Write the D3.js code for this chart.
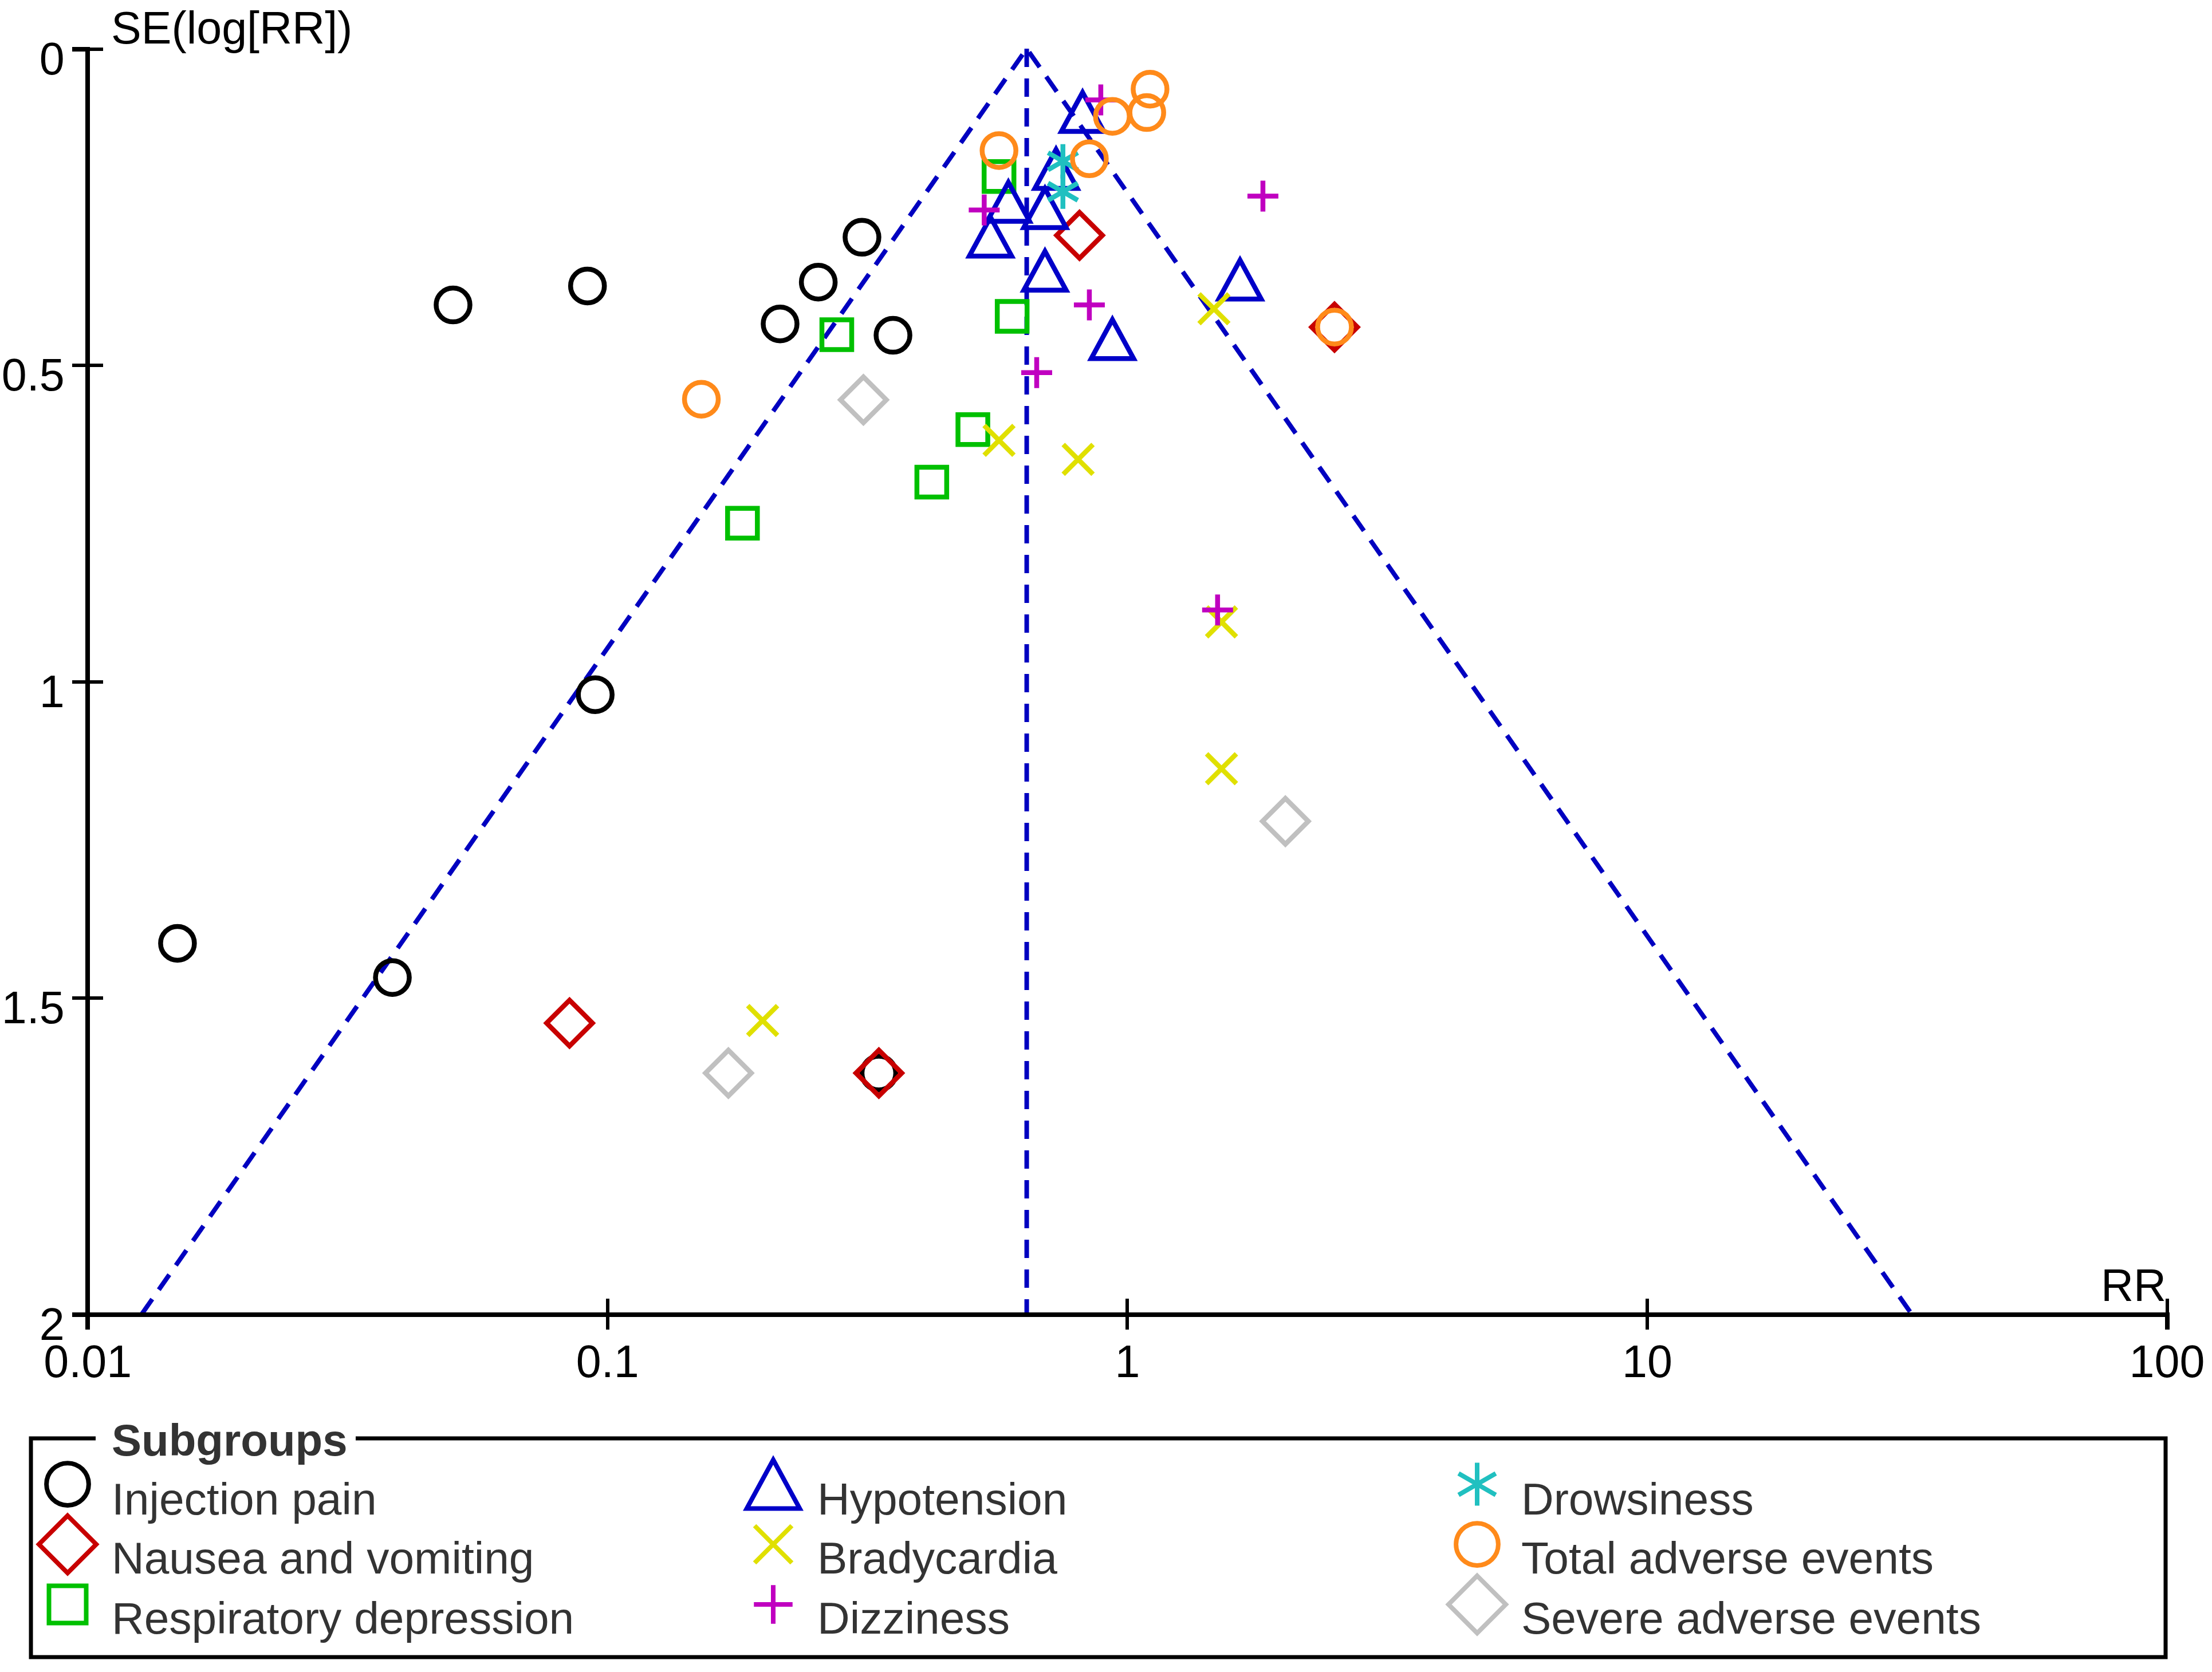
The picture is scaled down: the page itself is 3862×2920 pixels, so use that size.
<!DOCTYPE html>
<html><head><meta charset="utf-8">
<script src="https://cdn.jsdelivr.net/npm/d3@7"></script>
<style>body{margin:0;background:#fff}svg{display:block}</style>
</head><body>
<svg id="chart" width="3862" height="2920"></svg>
<script>
// ---------- data: [RR, SE(log RR)] ----------
const subgroups = ["Injection pain","Nausea and vomiting","Respiratory depression","Hypotension","Bradycardia","Dizziness","Drowsiness","Total adverse events","Severe adverse events"];
const injectionPain = [[0.0505,0.405],[0.0916,0.375],[0.309,0.298],[0.2546,0.369],[0.215,0.435],[0.3545,0.453],[0.0948,1.021],[0.0149,1.414],[0.0386,1.468],[0.333,1.619]];
const nauseaVomiting = [[0.81,0.295],[2.506,0.440],[0.0846,1.540],[0.333,1.619]];
const respiratoryDepression = [[0.567,0.202],[0.2764,0.452],[0.601,0.423],[0.505,0.602],[0.421,0.685],[0.182,0.750]];
const hypotension = [[0.821,0.100],[0.730,0.190],[0.591,0.242],[0.695,0.252],[0.546,0.297],[0.695,0.351],[1.649,0.365],[0.937,0.459]];
const bradycardia = [[1.469,0.411],[0.567,0.619],[0.805,0.649],[1.519,0.906],[1.519,1.138],[0.199,1.536]];
const dizziness = [[0.890,0.081],[1.825,0.233],[0.531,0.255],[0.846,0.405],[0.670,0.512],[1.493,0.887]];
const drowsiness = [[0.7525,0.178],[0.7525,0.226]];
const totalAdverse = [[1.107,0.064],[1.091,0.101],[0.937,0.107],[0.567,0.161],[0.846,0.174],[2.506,0.440],[0.1517,0.554]];
const severeAdverse = [[0.311,0.555],[2.016,1.221],[0.171,1.619]];
const seriesValues = [injectionPain,nauseaVomiting,respiratoryDepression,hypotension,bradycardia,dizziness,drowsiness,totalAdverse,severeAdverse];
const pooledRR = 0.641;
const xTicks = [0.01,0.1,1,10,100];
const xTickLabels = ["0.01","0.1","1","10","100"];
const yTicks = [0,0.5,1,1.5,2];
const yTickLabels = ["0","0.5","1","1.5","2"];

// ---------- styles ----------
const symbols = ["circle","diamond","square","triangle","x","plus","asterisk","circle","diamond"];
const colors = ["#000000","#c80000","#00c000","#0000c8","#e0e000","#c000c0","#20c0c0","#ff8a1a","#c0c0c0"];
const FONT = "'Liberation Sans', Arial, sans-serif";

const svg = d3.select("#chart");
svg.append("rect").attr("width",3862).attr("height",2920).attr("fill","#fff");

const x = d3.scaleLog().domain([0.01,100]).range([152.7,3783]);
const y = d3.scaleLinear().domain([0,2]).range([85,2295]);

function shapePath(type, k){
  const p = d3.path();
  if(type==="circle"){ p.moveTo(29.5*k,0); p.arc(0,0,29.5*k,0,Math.PI*2); p.closePath(); }
  else if(type==="diamond"){ const r=40*k; p.moveTo(0,-r); p.lineTo(r,0); p.lineTo(0,r); p.lineTo(-r,0); p.closePath(); }
  else if(type==="square"){ const r=26*k; p.rect(-r,-r,2*r,2*r); }
  else if(type==="triangle"){ const w=37*k,h=34*k; p.moveTo(0,-h); p.lineTo(w,h); p.lineTo(-w,h); p.closePath(); }
  else if(type==="x"){ const r=26*k; p.moveTo(-r,-r); p.lineTo(r,r); p.moveTo(-r,r); p.lineTo(r,-r); }
  else if(type==="plus"){ const r=27*k; p.moveTo(-r,0); p.lineTo(r,0); p.moveTo(0,-r); p.lineTo(0,r); }
  else if(type==="asterisk"){ const r=30*k; p.moveTo(0,-r); p.lineTo(0,r);
    const dx=r*Math.cos(Math.PI/6), dy=r*Math.sin(Math.PI/6);
    p.moveTo(-dx,-dy); p.lineTo(dx,dy); p.moveTo(-dx,dy); p.lineTo(dx,-dy); }
  return p.toString();
}

// ---------- funnel ----------
const funnel = svg.append("g").attr("fill","none").attr("stroke","#0000c0")
  .attr("stroke-width",8).attr("stroke-dasharray","32 20");
const seMax = 2;
const lo = pooledRR*Math.exp(-1.96*seMax), hi = pooledRR*Math.exp(1.96*seMax);
funnel.append("path").attr("d", d3.line()([[x(lo),y(seMax)],[x(pooledRR),y(0)],[x(hi),y(seMax)]]));
funnel.append("line").attr("x1",x(pooledRR)).attr("x2",x(pooledRR)).attr("y1",y(0)).attr("y2",y(seMax));

// ---------- axes ----------
const xAxis = svg.append("g").attr("transform",`translate(0,${y(2)})`)
  .call(d3.axisBottom(x).tickValues(xTicks).tickFormat((d,i)=>xTickLabels[i]).tickSizeOuter(0).tickSize(27));
xAxis.select(".domain").attr("stroke","#000").attr("stroke-width",8);
xAxis.selectAll(".tick line").attr("y1",-27).attr("y2",27).attr("stroke","#000").attr("stroke-width",6);
xAxis.selectAll(".tick text").attr("y",110).attr("dy",null).attr("fill","#000")
  .style("font-family",FONT).style("font-size","79px");

const yAxis = svg.append("g").attr("transform",`translate(${x(0.01)},0)`)
  .call(d3.axisLeft(y).tickValues(yTicks).tickFormat((d,i)=>yTickLabels[i]).tickSizeOuter(0).tickSize(27));
yAxis.select(".domain").attr("stroke","#000").attr("stroke-width",8);
yAxis.selectAll(".tick line").attr("x1",-27).attr("x2",27).attr("stroke","#000").attr("stroke-width",6);
yAxis.selectAll(".tick text").attr("x",-40).attr("dy",null).attr("y",44).attr("text-anchor","end").attr("fill","#000")
  .style("font-family",FONT).style("font-size","79px");
svg.selectAll(".domain, .tick line").attr("shape-rendering","crispEdges");
svg.selectAll("g").filter(function(){return this.getAttribute("font-size");}).attr("font-size",null).attr("font-family",null);

svg.append("text").attr("x",194).attr("y",76).text("SE(log[RR])")
  .style("font-family",FONT).style("font-size","79px").attr("fill","#000");
svg.append("text").attr("x",3782).attr("y",2272).attr("text-anchor","end").text("RR")
  .style("font-family",FONT).style("font-size","79px").attr("fill","#000");

// ---------- points ----------
seriesValues.forEach((vals,i)=>{
  svg.append("g").selectAll("path").data(vals).join("path")
    .attr("transform",d=>`translate(${x(d[0])},${y(d[1])})`)
    .attr("d",shapePath(symbols[i],1))
    .attr("fill","none").attr("stroke",colors[i]).attr("stroke-width",8.5)
    .attr("stroke-linejoin","miter");
});

// ---------- legend ----------
const leg = svg.append("g");
leg.append("path").attr("d","M167,2512 L54,2512 L54,2894 L3781,2894 L3781,2512 L621,2512")
  .attr("fill","none").attr("stroke","#000").attr("stroke-width",7);
leg.append("text").attr("x",195).attr("y",2542).text("Subgroups")
  .style("font-family",FONT).style("font-size","78px").style("font-weight","bold").attr("fill","#333");
const colX = [118,1350,2579];
const rowTextY = [2645,2748,2853];
const rowMarkY = [2592,2697,2802];
subgroups.forEach((name,i)=>{
  const c = Math.floor(i/3), r = i%3;
  leg.append("path").attr("transform",`translate(${colX[c]},${rowMarkY[r]})`)
    .attr("d",shapePath(symbols[i],1.25)).attr("fill","none").attr("stroke",colors[i]).attr("stroke-width",8);
  leg.append("text").attr("x",colX[c]+77).attr("y",rowTextY[r]).text(name)
    .style("font-family",FONT).style("font-size","78.5px").attr("fill","#333");
});
</script>
</body></html>
